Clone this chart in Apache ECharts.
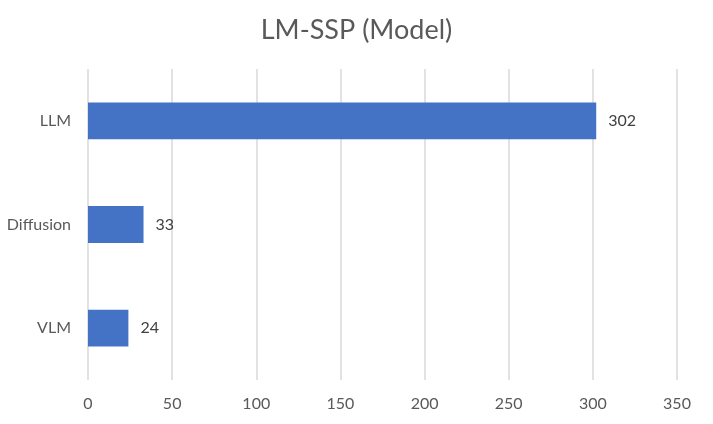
<!DOCTYPE html>
<html>
<head>
<meta charset="utf-8">
<script src="https://cdn.jsdelivr.net/npm/echarts@6/dist/echarts.min.js"></script>
<style>
  html, body { margin: 0; padding: 0; background: #fff; }
  #chart { width: 713px; height: 424px; }
</style>
</head>
<body>
<div id="chart"></div>
<script>
// data
var categories = ["VLM", "Diffusion", "LLM"];
var counts = [24, 33, 302];
var xTicks = [0, 50, 100, 150, 200, 250, 300, 350];

var chart = echarts.init(document.getElementById("chart"));

var option = {
    animation: false,
    backgroundColor: "#fff",
    textStyle: { fontFamily: "Lato" },
    title: {
        text: "LM-SSP (Model)",
        left: "center",
        top: 12,
        textStyle: {
            fontFamily: "Lato",
            fontSize: 27,
            fontWeight: "normal",
            color: "#595959"
        }
    },
    grid: {
        left: 88,
        right: 36,
        top: 69,
        bottom: 44
    },
    xAxis: {
        type: "value",
        min: xTicks[0],
        max: xTicks[xTicks.length - 1],
        interval: 50,
        axisLine: { show: false },
        axisTick: { show: false },
        axisLabel: {
            color: "#595959",
            fontSize: 16,
            margin: 16
        },
        splitLine: {
            show: true,
            lineStyle: { color: "#d9d9d9", width: 1.5 }
        }
    },
    yAxis: {
        type: "category",
        data: categories,
        axisLine: { show: false },
        axisTick: { show: false },
        axisLabel: {
            color: "#595959",
            fontSize: 16,
            margin: 17
        }
    },
    series: [{
        type: "bar",
        data: counts,
        barWidth: "35.5%",
        itemStyle: { color: "#4472C4" },
        label: {
            show: true,
            position: "right",
            distance: 12,
            color: "#404040",
            fontSize: 16
        }
    }]
};

chart.setOption(option);
</script>
</body>
</html>
